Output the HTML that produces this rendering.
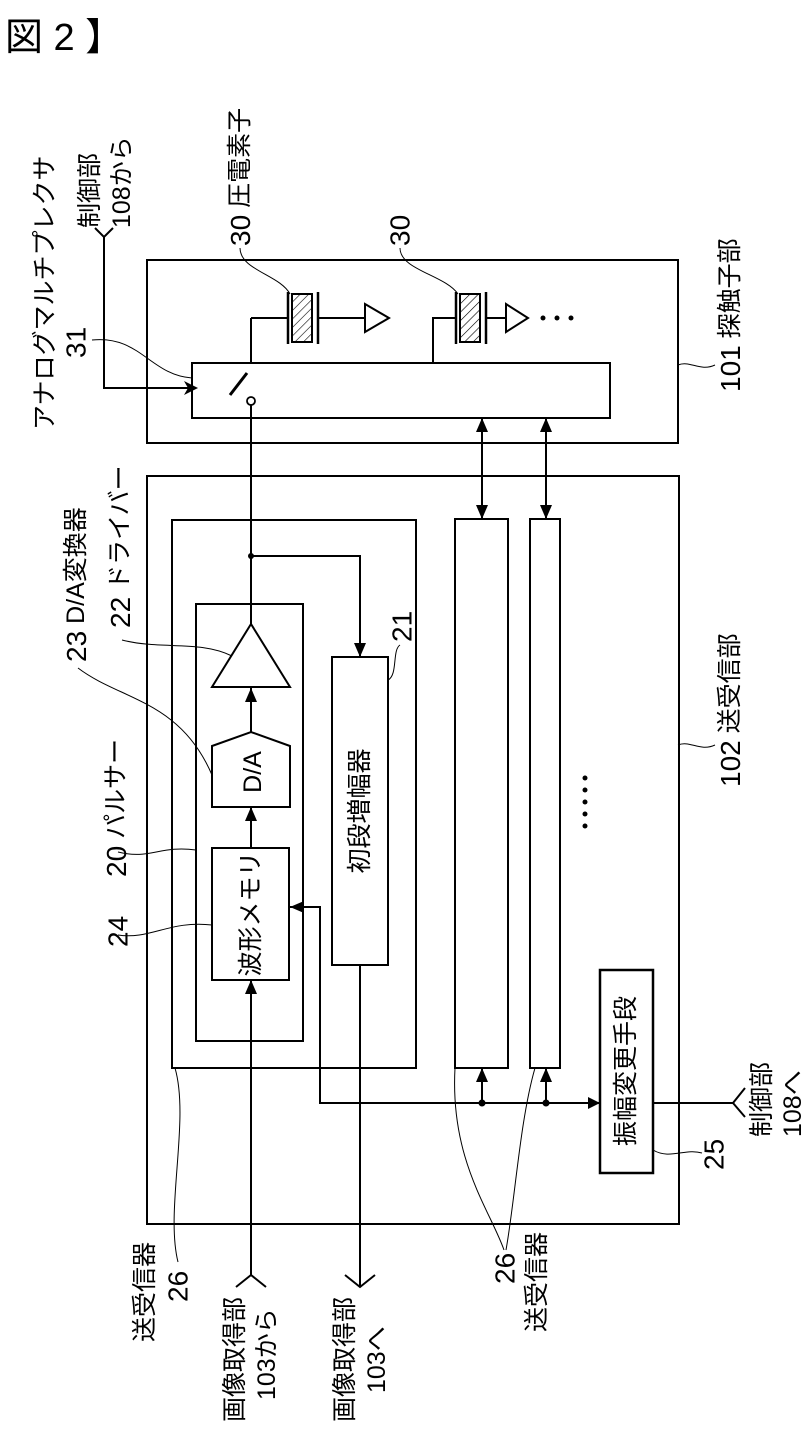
<!DOCTYPE html>
<html><head><meta charset="utf-8"><style>
html,body{margin:0;padding:0;background:#fff;}
svg{display:block;}
text{font-family:"Liberation Sans","Noto Sans CJK JP",sans-serif;fill:#000;}
</style></head><body>
<svg width="806" height="1432" viewBox="0 0 806 1432" xmlns="http://www.w3.org/2000/svg">
<defs>
<pattern id="h" width="6" height="6" patternUnits="userSpaceOnUse" patternTransform="rotate(45)">
<line x1="0" y1="0" x2="0" y2="6" stroke="#000" stroke-width="1.2"/></pattern>
</defs>
<text x="5" y="50" font-size="38">図 2 】</text>
<g fill="none" stroke="#000" stroke-width="2">
<rect x="147" y="260" width="531" height="183"/>
<rect x="192" y="363" width="418" height="55"/>
<rect x="147" y="476" width="532" height="748"/>
<rect x="172" y="520" width="244" height="548"/>
<rect x="196" y="604" width="107" height="437"/>
<polygon points="251,624 212,687 290,687"/>
<polygon points="212,807 212,746 251,732 290,746 290,807"/>
<rect x="212" y="848" width="77" height="132"/>
<rect x="332" y="657" width="56" height="308"/>
<rect x="455" y="519" width="53" height="549"/>
<rect x="530" y="519" width="30" height="549"/>
<rect x="600" y="970" width="53" height="203" stroke-width="2.5"/>
<line x1="251" y1="405" x2="251" y2="624"/>
<line x1="251" y1="318" x2="251" y2="363"/>
<line x1="251" y1="318" x2="288" y2="318"/>
<line x1="247" y1="373" x2="230" y2="395" stroke-width="3"/>
<line x1="251" y1="687" x2="251" y2="732"/>
<line x1="251" y1="807" x2="251" y2="848"/>
<line x1="251" y1="980" x2="251" y2="1275"/>
<polyline points="236,1287 251,1275 266,1287"/>
<polyline points="251,556 360,556 360,657"/>
<line x1="360" y1="965" x2="360" y2="1287"/>
<polyline points="345,1275 360,1287 375,1275"/>
<polyline points="104,236 104,388 196,388"/>
<polyline points="95,228 104,237 113,228"/>
<polyline points="290,907 320,907 320,1103 600,1103"/>
<line x1="653" y1="1103" x2="733" y2="1103"/>
<polyline points="745,1088 733,1103 745,1117"/>
<line x1="482" y1="1103" x2="482" y2="1068"/>
<line x1="546" y1="1103" x2="546" y2="1068"/>
<line x1="482" y1="418" x2="482" y2="519"/>
<line x1="546" y1="418" x2="546" y2="519"/>
<line x1="288" y1="292" x2="288" y2="344" stroke-width="2.5"/>
<line x1="318" y1="292" x2="318" y2="344" stroke-width="2.5"/>
<rect x="292" y="294" width="20" height="48" fill="url(#h)"/>
<line x1="318" y1="318" x2="365" y2="318"/>
<polygon points="365,304 389,318 365,332"/>
<polyline points="433,363 433,318 456,318"/>
<line x1="456" y1="292" x2="456" y2="344" stroke-width="2.5"/>
<line x1="486" y1="292" x2="486" y2="344" stroke-width="2.5"/>
<rect x="460" y="294" width="20" height="48" fill="url(#h)"/>
<line x1="486" y1="318" x2="506" y2="318"/>
<polygon points="506,304 528,318 506,332"/>
<g stroke-width="1">
<path d="M240,248 C240,270 280,275 290,294"/>
<path d="M400,248 C400,270 445,275 458,294"/>
<path d="M92,340 C140,335 150,375 192,378"/>
<path d="M678,365 C690,360 700,372 715,365"/>
<path d="M78,668 C120,700 180,700 212,775"/>
<path d="M122,640 C160,650 200,640 232,656"/>
<path d="M118,852 C150,860 160,845 196,850"/>
<path d="M118,935 C150,940 170,920 212,925"/>
<path d="M388,680 C398,675 392,650 400,645"/>
<path d="M678,745 C690,740 700,752 715,745"/>
<path d="M653,1150 C670,1160 685,1148 702,1153"/>
<path d="M175,1068 C190,1120 165,1210 178,1262"/>
<path d="M455,1068 C450,1160 490,1210 504,1250"/>
<path d="M535,1068 C520,1120 515,1200 506,1250"/>
</g>
</g>
<circle cx="251" cy="401" r="4" fill="#fff" stroke="#000" stroke-width="1.8"/>
<circle cx="251" cy="556" r="3" fill="#000"/>
<circle cx="482" cy="1103" r="3.5" fill="#000"/>
<circle cx="546" cy="1103" r="3.5" fill="#000"/>
<circle cx="543" cy="318" r="2.5" fill="#000"/>
<circle cx="557" cy="318" r="2.5" fill="#000"/>
<circle cx="571" cy="318" r="2.5" fill="#000"/>
<g fill="#000">
<circle cx="585" cy="778" r="2.5"/><circle cx="585" cy="790" r="2.5"/><circle cx="585" cy="802" r="2.5"/><circle cx="585" cy="814" r="2.5"/><circle cx="585" cy="826" r="2.5"/>
<polygon points="198,388 184,381 188,388 184,395"/>
<polygon points="251,688 245,702 257,702"/>
<polygon points="251,807 245,821 257,821"/>
<polygon points="251,980 245,994 257,994"/>
<polygon points="360,657 354,643 366,643"/>
<polygon points="290,907 304,901 304,913"/>
<polygon points="600,1103 588,1097 588,1109"/>
<polygon points="482,1068 476,1082 488,1082"/>
<polygon points="546,1068 540,1082 552,1082"/>
<polygon points="482,418 476,432 488,432"/>
<polygon points="482,519 476,505 488,505"/>
<polygon points="546,418 540,432 552,432"/>
<polygon points="546,519 540,505 552,505"/>
</g>
<g font-size="25" dominant-baseline="central">
<text transform="translate(45,430) rotate(-90)">アナログマルチプレクサ</text>
<text transform="translate(76,358) rotate(-90)" font-size="28">31</text>
<text transform="translate(90,228) rotate(-90)">制御部</text>
<text transform="translate(122,228) rotate(-90)">108から</text>
<text transform="translate(240,246) rotate(-90)"><tspan font-size="28">30</tspan> 圧電素子</text>
<text transform="translate(400,246) rotate(-90)" font-size="28">30</text>
<text transform="translate(730,392) rotate(-90)"><tspan font-size="28">101</tspan> 探触子部</text>
<text transform="translate(76,662) rotate(-90)"><tspan font-size="28">23</tspan> D/A変換器</text>
<text transform="translate(120,628) rotate(-90)"><tspan font-size="28">22</tspan> ドライバー</text>
<text transform="translate(402,642) rotate(-90)" font-size="28">21</text>
<text transform="translate(116,877) rotate(-90)"><tspan font-size="28">20</tspan> パルサー</text>
<text transform="translate(118,947) rotate(-90)" font-size="28">24</text>
<text transform="translate(730,787) rotate(-90)"><tspan font-size="28">102</tspan> 送受信部</text>
<text transform="translate(714,1170) rotate(-90)" font-size="28">25</text>
<text transform="translate(762,1137) rotate(-90)">制御部</text>
<text transform="translate(793,1137) rotate(-90)">108へ</text>
<text transform="translate(145,1342) rotate(-90)">送受信器</text>
<text transform="translate(178,1302) rotate(-90)" font-size="28">26</text>
<text transform="translate(235,1422) rotate(-90)">画像取得部</text>
<text transform="translate(267,1400) rotate(-90)">103から</text>
<text transform="translate(345,1422) rotate(-90)">画像取得部</text>
<text transform="translate(377,1393) rotate(-90)">103へ</text>
<text transform="translate(505,1284) rotate(-90)" font-size="28">26</text>
<text transform="translate(537,1332) rotate(-90)">送受信器</text>
<text transform="translate(251,914) rotate(-90)" text-anchor="middle">波形メモリ</text>
<text transform="translate(253,772) rotate(-90)" text-anchor="middle">D/A</text>
<text transform="translate(360,811) rotate(-90)" text-anchor="middle">初段増幅器</text>
<text transform="translate(626,1071) rotate(-90)" text-anchor="middle">振幅変更手段</text>
</g>
</svg>
</body></html>
